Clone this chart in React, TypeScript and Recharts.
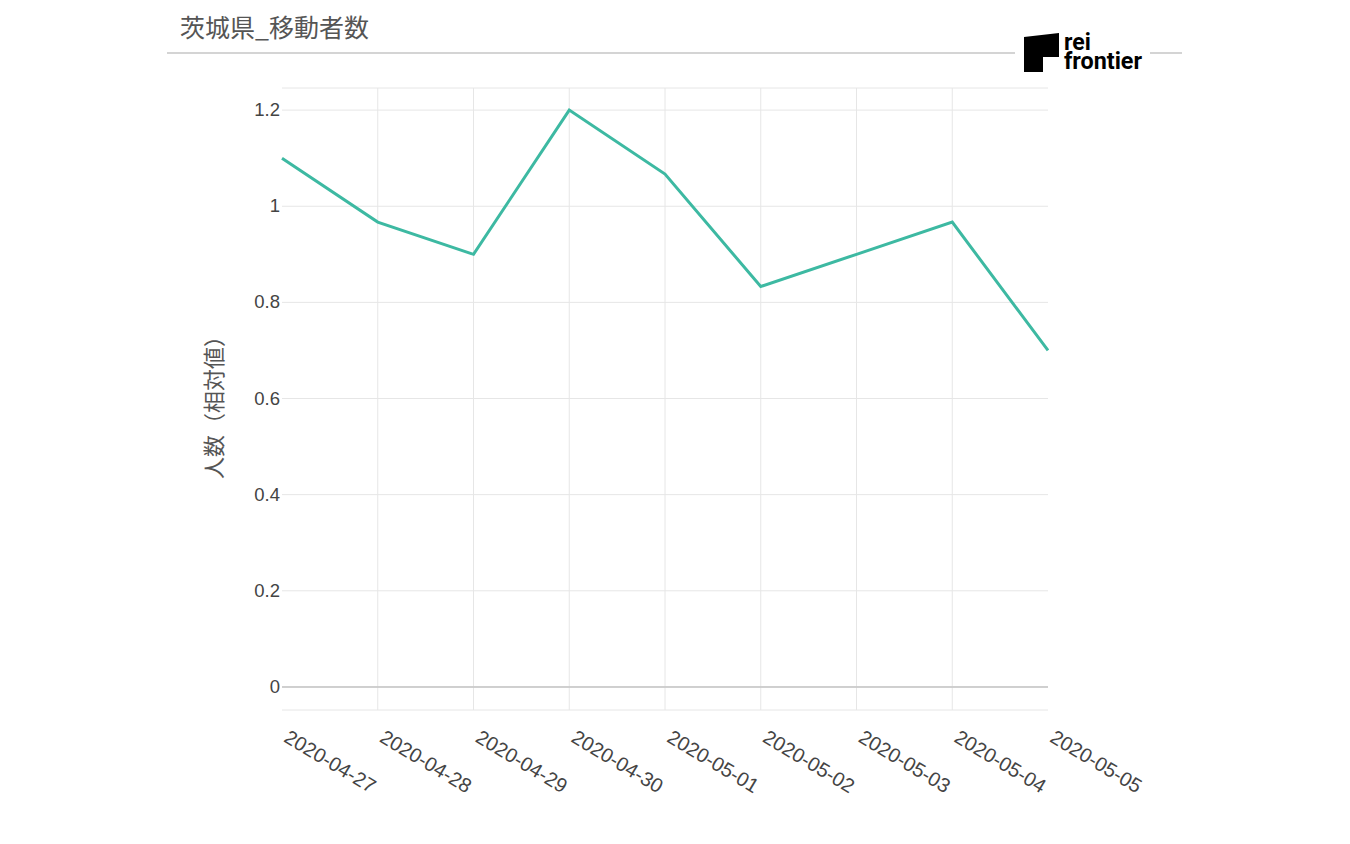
import React from "react";
import { LineChart, Line, XAxis, YAxis, CartesianGrid, ReferenceLine } from "recharts";

const dates = [
  "2020-04-27",
  "2020-04-28",
  "2020-04-29",
  "2020-04-30",
  "2020-05-01",
  "2020-05-02",
  "2020-05-03",
  "2020-05-04",
  "2020-05-05",
];
const people = [1.1, 0.967, 0.9, 1.2, 1.067, 0.833, 0.9, 0.967, 0.7];
const yTicks = [0, 0.2, 0.4, 0.6, 0.8, 1, 1.2];
const title = "茨城県_移動者数";
const yLabel = "人数（相対値）";

const data = dates.map((d, i) => ({ date: d, value: people[i] }));

const FONT = "'Liberation Sans', Arial, sans-serif";
const CJK = "'Noto Sans CJK JP', 'Noto Sans', sans-serif";

const XTick = (props: any) => {
  const { x, y, payload } = props;
  return (
    <g transform={`translate(${x + 8},${y + 13}) rotate(31)`}>
      <text x={0} y={14} fontSize={20} fill="#444" fontFamily={FONT} textAnchor="start">
        {payload.value}
      </text>
    </g>
  );
};

const YTick = (props: any) => {
  const { x, y, payload } = props;
  return (
    <text x={x} y={y} dy={6} fontSize={18.5} fill="#444" fontFamily={FONT} textAnchor="end">
      {String(payload.value)}
    </text>
  );
};

export default function App() {
  return (
    <div
      style={{
        position: "absolute",
        left: 0,
        top: 0,
        width: 1350,
        height: 844,
        background: "#fff",
        overflow: "hidden",
      }}
    >
      <div
        style={{
          position: "absolute",
          left: 180,
          top: 10,
          fontFamily: CJK,
          fontSize: 25,
          color: "#555",
          lineHeight: "32px",
          whiteSpace: "nowrap",
        }}
      >
        {title}
      </div>
      <div style={{ position: "absolute", left: 167, top: 52, width: 848, height: 2, background: "#d4d4d4" }} />
      <div style={{ position: "absolute", left: 1150, top: 52, width: 32, height: 2, background: "#d4d4d4" }} />
      <svg style={{ position: "absolute", left: 1020, top: 28 }} width={130} height={50}>
        <path d="M4 9 L39 5 L39 29 L23 29 L23 44 L4 44 Z" fill="#000" />
        <text
          x={44}
          y={22}
          fontFamily="Roboto, 'Liberation Sans', sans-serif"
          fontWeight={700}
          fontSize={23}
          fill="#000"
        >
          rei
        </text>
        <text
          x={44}
          y={41}
          fontFamily="Roboto, 'Liberation Sans', sans-serif"
          fontWeight={700}
          fontSize={23}
          fill="#000"
          textLength={78}
          lengthAdjust="spacingAndGlyphs"
        >
          frontier
        </text>
      </svg>
      <div style={{ position: "absolute", left: 0, top: 0 }}>
        <LineChart
          width={1350}
          height={844}
          data={data}
          margin={{ top: 88, right: 302, bottom: 34, left: 182 }}
        >
          <CartesianGrid vertical={false} stroke="#e6e6e6" strokeWidth={1} />
          {dates.slice(1, -1).map((d) => (
            <ReferenceLine key={d} x={d} stroke="#e6e6e6" strokeWidth={1} ifOverflow="visible" />
          ))}
          <ReferenceLine y={0} stroke="#c4c4c4" strokeWidth={1.5} />
          <XAxis
            dataKey="date"
            axisLine={false}
            tickLine={false}
            tick={<XTick />}
            interval={0}
            height={100}
            tickMargin={0}
          />
          <YAxis
            type="number"
            domain={[-0.048, 1.246]}
            ticks={yTicks}
            axisLine={false}
            tickLine={false}
            tick={<YTick />}
            width={100}
            tickSize={0}
            tickMargin={2}
            allowDataOverflow
          />
          <Line
            type="linear"
            dataKey="value"
            stroke="#3db9a2"
            strokeWidth={3}
            dot={false}
            activeDot={false}
            isAnimationActive={false}
          />
        </LineChart>
      </div>
      <div
        style={{
          position: "absolute",
          left: 212,
          top: 402,
          transform: "translate(-50%, -50%) rotate(-90deg)",
          fontFamily: CJK,
          fontSize: 22,
          color: "#555",
          whiteSpace: "nowrap",
        }}
      >
        {yLabel}
      </div>
    </div>
  );
}
